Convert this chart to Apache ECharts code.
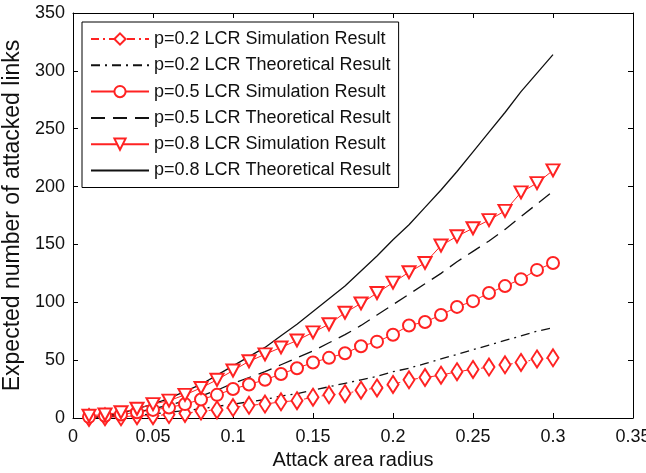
<!DOCTYPE html>
<html>
<head>
<meta charset="utf-8">
<script src="https://cdn.jsdelivr.net/npm/echarts@6/dist/echarts.min.js"></script>
<style>
html,body{margin:0;padding:0;background:#fff;}
#chart{width:646px;height:473px;}
</style>
</head>
<body>
<div id="chart"></div>
<script>
var radius = [0.01,0.02,0.03,0.04,0.05,0.06,0.07,0.08,0.09,0.10,
              0.11,0.12,0.13,0.14,0.15,0.16,0.17,0.18,0.19,0.20,
              0.21,0.22,0.23,0.24,0.25,0.26,0.27,0.28,0.29,0.30];
var xTicks = [0,0.05,0.1,0.15,0.2,0.25,0.3,0.35];
var yTicks = [0,50,100,150,200,250,300,350];

var sim02 = [0.5,1,1,2,2,3,4,6,7,9,
             11,12,14,15,18,20,21,24,26,29,
             33,35,37,40,42,44,46,48,51,52];
var theo02 = [0.3,1,1.5,2.5,3.5,5,6.5,8,10,12,
              14,16,19,21,24,27,30,33,36,40,
              43,47,51,55,59,63,67,71,75,78];
var sim05 = [1,2,3,5,7,9,12,16,20,25,
             29,33,38,43,48,52,56,62,66,72,
             80,83,89,96,101,108,114,120,128,134];
var theo05 = [0.5,1.5,3,5,8,11,15,19,24,30,
              35,40,46,52,58,65,72,80,89,98,
              107,116,125,135,144,153,163,174,185,196];
var sim08 = [2,3,5,8,12,15,20,26,33,41,
             49,55,61,67,74,81,91,99,108,117,
             126,134,149,157,164,171,179,195,203,214];
var theo08 = [0.5,2,4,8,12,17,23,29,37,45,
              53,61,71,81,92,103,114,127,140,154,
              167,182,197,213,230,247,264,282,298,314];

var names = ['p=0.2 LCR Simulation Result','p=0.2 LCR Theoretical Result',
             'p=0.5 LCR Simulation Result','p=0.5 LCR Theoretical Result',
             'p=0.8 LCR Simulation Result','p=0.8 LCR Theoretical Result'];

function pairs(v){ return radius.map(function(r,i){ return [r, v[i]]; }); }

var RED = '#f22';
var BLK = '#111';
var font = 'Liberation Sans, Arial, sans-serif';

var chart = echarts.init(document.getElementById('chart'));
var axisCommon = {
  axisLine:{show:true, onZero:false, lineStyle:{color:'#000', width:1}},
  axisTick:{show:true, inside:true, length:5, lineStyle:{color:'#000'}},
  splitLine:{show:false}
};
chart.setOption({
  animation:false,
  backgroundColor:'#fff',
  grid:{left:73, right:13, top:13, bottom:55, containLabel:false, outerBoundsMode:'none'},
  legend:{
    orient:'vertical', left:82, top:22,
    padding:[8,8,8,8],
    itemWidth:58, itemHeight:14, itemGap:8.3,
    backgroundColor:'#fff', borderColor:'#000', borderWidth:1, borderRadius:0,
    textStyle:{fontFamily:font, fontSize:18, color:'#111'},
    data:names.map(function(n,i){
      return i%2===1 ? {name:n, itemStyle:{opacity:0}} : {name:n};
    })
  },
  xAxis:[
    Object.assign({type:'value', position:'bottom', min:0, max:0.35, interval:0.05,
      name:'Attack area radius', nameLocation:'middle', nameGap:31,
      nameTextStyle:{fontFamily:font, fontSize:20, color:'#111'},
      axisLabel:{fontFamily:font, fontSize:18, color:'#111', margin:10,
        formatter:function(v){ var s = xTicks.find(function(t){return Math.abs(t-v)<1e-9;}); return s===undefined?'':String(s); }}
    }, axisCommon),
    Object.assign({type:'value', position:'top', min:0, max:0.35, interval:0.05,
      axisLabel:{show:false}}, axisCommon)
  ],
  yAxis:[
    Object.assign({type:'value', position:'left', min:0, max:350, interval:50,
      name:'Expected number of attacked links', nameLocation:'middle', nameGap:40,
      nameTextStyle:{fontFamily:font, fontSize:23, color:'#111'},
      axisLabel:{fontFamily:font, fontSize:18, color:'#111', margin:8,
        formatter:function(v){ return yTicks.indexOf(v)>=0 ? String(v) : ''; }}
    }, axisCommon),
    Object.assign({type:'value', position:'right', min:0, max:350, interval:50,
      axisLabel:{show:false}}, axisCommon)
  ],
  series:[
    {name:names[0], type:'line', data:pairs(sim02), symbol:'emptyDiamond', symbolSize:[11,17],
      color:RED, lineStyle:{color:RED, width:1, type:[8,4,2,4]}, itemStyle:{color:RED, borderColor:RED, borderWidth:1.2}, z:5},
    {name:names[1], type:'line', data:pairs(theo02), symbol:'none', color:BLK,
      lineStyle:{color:BLK, width:1.3, type:[9,5,2,5]}},
    {name:names[2], type:'line', data:pairs(sim05), symbol:'emptyCircle', symbolSize:12,
      color:RED, lineStyle:{color:RED, width:1}, itemStyle:{color:RED, borderColor:RED, borderWidth:1.2}, z:5},
    {name:names[3], type:'line', data:pairs(theo05), symbol:'none', color:BLK,
      lineStyle:{color:BLK, width:1.3, type:[14,8]}},
    {name:names[4], type:'line', data:pairs(sim08), symbol:'emptyTriangle', symbolRotate:180, symbolSize:[13,12],
      color:RED, lineStyle:{color:RED, width:1}, itemStyle:{color:RED, borderColor:RED, borderWidth:1.2}, z:5},
    {name:names[5], type:'line', data:pairs(theo08), symbol:'none', color:BLK,
      lineStyle:{color:BLK, width:1.3, type:'solid'}}
  ]
});
</script>
</body>
</html>
